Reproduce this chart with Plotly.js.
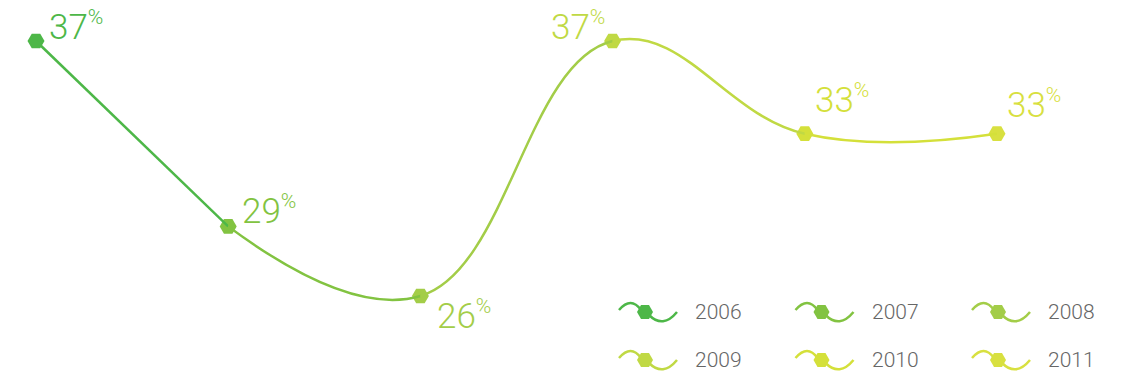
<!DOCTYPE html>
<html>
<head>
<meta charset="utf-8">
<script src="https://cdn.plot.ly/plotly-3.0.1.min.js"></script>
<style>
  html, body { margin: 0; padding: 0; background: #ffffff; }
  #chart { width: 1123px; height: 377px; }
</style>
</head>
<body>
<div id="chart"></div>
<script>
// Yearly share, in percent
const years = ['2006', '2007', '2008', '2009', '2010', '2011'];
const shares = [37, 29, 26, 37, 33, 33];
const yearColors = ['#4db748', '#82c341', '#a3cd48', '#c0d944', '#d4e03a', '#d8e040'];

const W = 1123, H = 377;
const xRange = [-0.1873, 5.6556];
const yRange = [22.505, 38.769];
const idx = years.map((_, i) => i);
const FONT = 'Roboto, "Open Sans", sans-serif';

const layout = {
  width: W, height: H,
  margin: { l: 0, r: 0, t: 0, b: 0, pad: 0 },
  paper_bgcolor: '#ffffff',
  plot_bgcolor: 'rgba(0,0,0,0)',
  showlegend: false,
  hovermode: false,
  xaxis: { domain: [0, 1], range: xRange, visible: false, fixedrange: true },
  yaxis: { domain: [0, 1], range: yRange, visible: false, fixedrange: true },
  annotations: [],
  shapes: []
};

const traces = [];

// Hexagon markers, one colour per year
traces.push({
  x: idx, y: shares, xaxis: 'x', yaxis: 'y',
  mode: 'markers',
  marker: { symbol: 'hexagon2', size: 17, color: yearColors, line: { width: 0 } },
  cliponaxis: false
});

// The line is drawn once per segment on an axis whose domain covers only
// that segment, so each stretch gets its own colour. The first stretch is
// straight; the rest follow one smooth spline through the later years.
const span = xRange[1] - xRange[0];
for (let i = 0; i < years.length - 1; i++) {
  const n = i + 2;
  layout['xaxis' + n] = {
    domain: [(i - xRange[0]) / span, (i + 1 - xRange[0]) / span],
    range: [i, i + 1], visible: false, anchor: 'y', fixedrange: true
  };
  const straight = i === 0;
  traces.push({
    x: straight ? idx.slice(0, 2) : idx.slice(1),
    y: straight ? shares.slice(0, 2) : shares.slice(1),
    xaxis: 'x' + n, yaxis: 'y',
    mode: 'lines',
    line: straight
      ? { shape: 'linear', width: 2.5, color: yearColors[i] }
      : { shape: 'spline', smoothing: 1.2, width: 2.5, color: yearColors[i], simplify: false }
  });
}

// Value labels
const labelPlacement = [
  { xanchor: 'left',  yanchor: 'bottom', xshift: 11,  yshift: -9 },
  { xanchor: 'left',  yanchor: 'bottom', xshift: 12,  yshift: -8 },
  { xanchor: 'left',  yanchor: 'top',    xshift: 15,  yshift: 4 },
  { xanchor: 'right', yanchor: 'bottom', xshift: -6,  yshift: -9 },
  { xanchor: 'left',  yanchor: 'bottom', xshift: 8,   yshift: 11 },
  { xanchor: 'left',  yanchor: 'bottom', xshift: 8,   yshift: 6 }
];
idx.forEach(i => {
  layout.annotations.push(Object.assign({
    x: i, y: shares[i], xref: 'x', yref: 'y',
    text: shares[i] + '<sup><span style="font-size:21px">%</span></sup>',
    showarrow: false,
    font: { family: FONT, size: 35, weight: 300, color: yearColors[i] }
  }, labelPlacement[i]));
});

// Key: three columns, two rows, in pixel-like coordinates
layout.xaxis7 = { domain: [0, 1], range: [0, W], visible: false, anchor: 'y2', fixedrange: true };
layout.yaxis2 = { domain: [0, 1], range: [H, 0], visible: false, anchor: 'x7', fixedrange: true };
const keyX0 = 645, keyY0 = 312, keyDx = 176.5, keyDy = 48;
const keyX = idx.map(i => keyX0 + (i % 3) * keyDx);
const keyY = idx.map(i => keyY0 + Math.floor(i / 3) * keyDy);

idx.forEach(i => {
  const cx = keyX[i], cy = keyY[i];
  const line = { color: yearColors[i], width: 2.5 };
  layout.shapes.push({
    type: 'path', xref: 'x7', yref: 'y2', line,
    path: `M${cx - 26},${cy - 2} Q${cx - 14},${cy - 16} ${cx - 4},${cy - 2}`
  });
  layout.shapes.push({
    type: 'path', xref: 'x7', yref: 'y2', line,
    path: `M${cx + 4},${cy + 3} Q${cx + 18},${cy + 17} ${cx + 32},${cy}`
  });
  layout.annotations.push({
    x: cx + 48, y: cy, xref: 'x7', yref: 'y2',
    xanchor: 'left', yanchor: 'middle',
    text: years[i], showarrow: false,
    font: { family: FONT, size: 21, weight: 300, color: '#666666' }
  });
});

traces.push({
  x: keyX, y: keyY, xaxis: 'x7', yaxis: 'y2',
  mode: 'markers',
  marker: { symbol: 'hexagon2', size: 16, color: yearColors, line: { width: 0 } },
  cliponaxis: false
});

Plotly.newPlot('chart', traces, layout, { displayModeBar: false, staticPlot: true });
</script>
</body>
</html>
